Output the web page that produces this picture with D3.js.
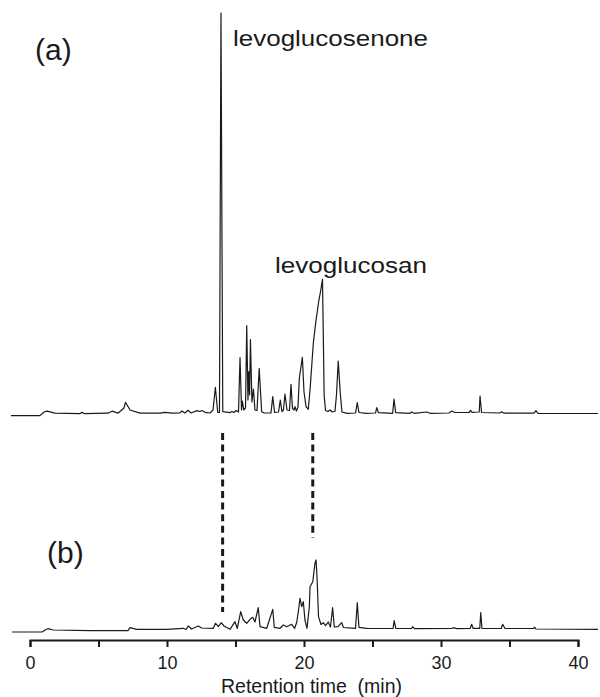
<!DOCTYPE html>
<html>
<head>
<meta charset="utf-8">
<script src="https://cdn.jsdelivr.net/npm/d3@7"></script>
<style>
  body { margin: 0; background: #fff; }
  svg { display: block; font-family: "Liberation Sans", Arial, sans-serif; }
</style>
</head>
<body>
<div id="chart"></div>
<script>
// retention time (min), relative abundance (% of levoglucosenone peak)
const traceA = [
  [-1.39,0.1],[0.73,0.1],[1.02,1.0],[1.24,1.2],[1.82,0.7],[3.65,0.6],[3.80,0.9],[3.94,0.6],
  [5.69,0.7],[5.99,1.2],[6.42,0.7],[6.86,2.0],[6.97,3.4],[7.30,1.5],[8.03,0.7],[9.49,0.7],
  [9.85,0.9],[10.36,0.7],[10.95,0.8],[11.09,1.24],[11.31,0.74],[11.53,1.41],[11.75,0.74],
  [12.19,1.32],[12.41,1.12],[12.55,1.36],[12.85,0.82],[13.14,0.74],[13.36,1.49],[13.53,7.12],
  [13.70,0.92],[13.83,0.87],[13.94,100],[14.07,1.07],[14.60,0.82],[14.74,1.12],[14.89,0.87],
  [15.04,1.36],[15.22,0.99],[15.33,14.47],[15.44,1.49],[15.50,3.72],[15.60,1.49],[15.73,1.99],
  [15.82,22.41],[15.91,3.97],[15.97,11.04],[16.03,5.21],[16.09,18.98],[16.20,3.47],[16.31,6.70],
  [16.42,1.49],[16.57,1.36],[16.73,11.79],[16.91,1.07],[17.08,0.74],[17.59,0.74],[17.72,4.84],
  [17.85,0.87],[18.14,0.99],[18.27,3.97],[18.39,1.07],[18.50,1.49],[18.61,5.41],[18.76,1.49],
  [18.94,1.36],[19.05,7.87],[19.16,1.86],[19.27,1.49],[19.34,2.31],[19.45,1.24],[19.56,2.23],
  [19.66,9.43],[19.88,14.57],[20.00,5.96],[20.15,2.31],[20.31,1.66],[20.44,6.45],[20.68,18.04],
  [20.88,23.82],[21.09,28.78],[21.20,30.77],[21.35,33.92],[21.47,5.21],[21.57,1.36],[21.75,1.12],
  [21.90,1.49],[22.04,1.04],[22.26,1.12],[22.37,5.21],[22.50,13.65],[22.63,6.45],[22.77,0.99],
  [23.14,0.67],[23.76,0.74],[23.89,3.30],[24.01,0.87],[24.53,0.67],[25.22,0.74],[25.31,2.06],
  [25.44,0.82],[26.47,0.67],[26.57,4.22],[26.69,0.82],[27.74,0.67],[27.86,0.99],[28.03,0.67],
  [28.96,0.99],[29.20,0.67],[30.58,0.74],[30.78,1.24],[31.02,0.87],[32.04,0.87],[32.17,1.36],
  [32.26,0.92],[32.79,0.99],[32.85,4.96],[32.96,0.87],[34.31,0.74],[34.43,1.07],[34.60,0.69],
  [36.79,0.69],[36.93,1.32],[37.08,0.67],[41.46,0.62]
];

const traceB = [
  [-1.31,0],[0.88,0],[1.17,0.62],[1.31,0.82],[1.70,0.50],[4.38,0.32],[7.15,0.32],[7.30,1.07],
  [7.79,0.67],[9.98,0.67],[11.19,0.92],[11.39,0.62],[11.55,1.49],[11.79,0.74],[12.28,1.49],
  [12.53,0.99],[13.38,0.92],[13.54,2.16],[13.76,1.36],[13.96,2.31],[14.16,1.49],[14.60,0.67],
  [14.96,2.56],[15.13,0.87],[15.38,5.04],[15.57,2.98],[15.82,2.16],[16.06,3.15],[16.26,3.65],
  [16.42,2.48],[16.66,6.03],[16.79,1.32],[17.28,0.92],[17.72,5.63],[17.83,1.17],[18.25,0.92],
  [18.49,1.74],[18.74,1.32],[19.10,1.91],[19.32,0.92],[19.47,2.41],[19.58,4.96],[19.71,8.36],
  [19.83,6.28],[19.95,7.52],[20.07,2.98],[20.22,0.92],[20.39,6.28],[20.44,11.24],[20.64,12.48],
  [20.80,17.05],[20.88,17.87],[20.96,12.90],[21.06,3.80],[21.24,1.86],[21.41,2.31],[21.57,1.61],
  [21.77,2.48],[21.93,1.24],[22.09,6.03],[22.21,1.24],[22.48,1.32],[22.75,2.31],[22.88,1.12],
  [23.76,0.92],[23.89,7.27],[24.01,1.17],[24.58,0.92],[25.26,0.87],[26.50,0.87],[26.58,2.80],
  [26.70,0.87],[27.85,0.87],[27.93,1.32],[28.07,0.82],[30.77,0.87],[30.90,1.07],[31.15,0.82],
  [32.14,0.92],[32.24,1.91],[32.34,0.92],[32.83,0.92],[32.90,4.79],[32.99,0.92],[34.40,0.87],
  [34.50,1.91],[34.67,0.87],[36.75,0.87],[36.84,1.17],[36.93,0.74],[41.46,0.67]
];

const xTicks = [0, 5, 10, 15, 20, 25, 30, 35, 40];
const xTickLabels = ["0", "", "10", "", "20", "", "30", "", "40"];
const markerTimes = [14.06, 20.64];          // dashed guides between the two runs
const peakNames = ["levoglucosenone", "levoglucosan"];
const panelNames = ["(a)", "(b)"];

const width = 600, height = 697;
const svg = d3.select("#chart").append("svg")
    .attr("width", width).attr("height", height);

const x = d3.scaleLinear().domain([0, 40]).range([30, 578]);
const yA = d3.scaleLinear().domain([0, 100]).range([416, 13]);
const yB = d3.scaleLinear().domain([0, 100]).range([632, 229]);

const lineA = d3.line().x(d => x(d[0])).y(d => yA(d[1]));
const lineB = d3.line().x(d => x(d[0])).y(d => yB(d[1]));

svg.append("path").datum(traceA)
    .attr("d", lineA)
    .attr("fill", "none")
    .attr("stroke", "#1a1a1a")
    .attr("stroke-width", 1.2)
    .attr("stroke-linejoin", "round");

svg.append("path").datum(traceB)
    .attr("d", lineB)
    .attr("fill", "none")
    .attr("stroke", "#1a1a1a")
    .attr("stroke-width", 1.2)
    .attr("stroke-linejoin", "round");

// dashed guides
const guideEnds = [612, 538];
svg.selectAll(".guide")
    .data(markerTimes)
    .enter()
    .append("line")
    .attr("class", "guide")
    .attr("x1", d => x(d)).attr("x2", d => x(d))
    .attr("y1", 433)
    .attr("y2", (d, i) => guideEnds[i])
    .attr("stroke", "#1a1a1a")
    .attr("stroke-width", 3)
    .attr("stroke-dasharray", "7,4.6");

// x axis
const axis = d3.axisBottom(x)
    .tickValues(xTicks)
    .tickFormat((d, i) => xTickLabels[i])
    .tickSizeOuter(0)
    .tickSize(7);

const gAxis = svg.append("g")
    .attr("transform", "translate(0,640)")
    .call(axis);
gAxis.select(".domain").attr("stroke", "#1a1a1a").attr("stroke-width", 2);
gAxis.selectAll(".tick line").attr("stroke", "#1a1a1a").attr("stroke-width", 2);
gAxis.selectAll(".tick text")
    .attr("y", 29).attr("dy", 0)
    .attr("fill", "#1a1a1a")
    .style("font-size", "18px")
    .style("font-family", "'Liberation Sans', Arial, sans-serif");

svg.append("text")
    .attr("x", 221).attr("y", 693)
    .attr("fill", "#1a1a1a")
    .style("font-size", "19.5px")
    .style("white-space", "pre")
    .text("Retention time  (min)");

// panel labels
svg.append("text").attr("x", 35).attr("y", 60)
    .attr("fill", "#1a1a1a").style("font-size", "30px").text(panelNames[0]);
svg.append("text").attr("x", 47).attr("y", 563)
    .attr("fill", "#1a1a1a").style("font-size", "30px").text(panelNames[1]);

// peak labels
svg.append("text").attr("x", 233).attr("y", 46)
    .attr("fill", "#1a1a1a").style("font-size", "22px")
    .attr("textLength", 195).attr("lengthAdjust", "spacingAndGlyphs")
    .text(peakNames[0]);
svg.append("text").attr("x", 275).attr("y", 273)
    .attr("fill", "#1a1a1a").style("font-size", "22px")
    .attr("textLength", 152).attr("lengthAdjust", "spacingAndGlyphs")
    .text(peakNames[1]);
</script>
</body>
</html>
